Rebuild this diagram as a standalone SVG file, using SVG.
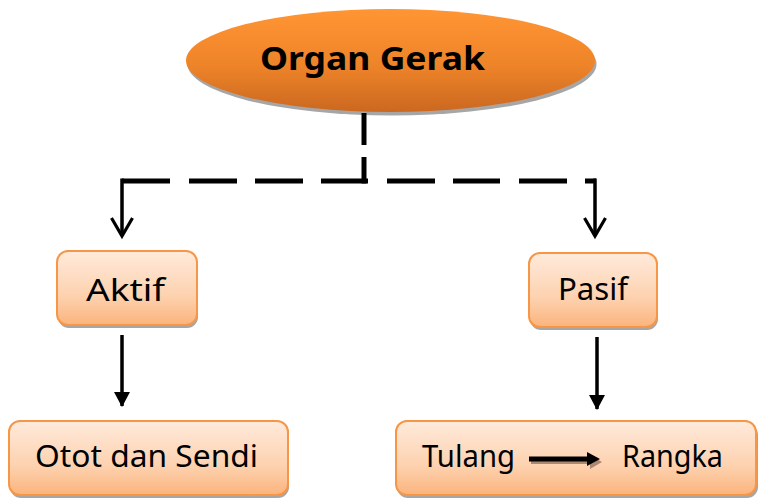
<svg xmlns="http://www.w3.org/2000/svg" width="759" height="498" viewBox="0 0 759 498">
<defs>
<linearGradient id="gOval" x1="0" y1="0" x2="0" y2="1">
<stop offset="0" stop-color="#FF9533"/>
<stop offset="0.55" stop-color="#EE8429"/>
<stop offset="1" stop-color="#CB6820"/>
</linearGradient>
<linearGradient id="gBox" x1="0" y1="0" x2="0" y2="1">
<stop offset="0" stop-color="#FFEADB"/>
<stop offset="0.6" stop-color="#FDD2B0"/>
<stop offset="1" stop-color="#FBB47C"/>
</linearGradient>
<marker id="tri" markerWidth="16" markerHeight="16" refX="14" refY="8" orient="auto" markerUnits="userSpaceOnUse">
<path d="M0,0 L15,8 L0,16 Z" fill="#000"/>
</marker>
<marker id="vee" markerWidth="24" markerHeight="24" refX="20" refY="12" orient="auto" markerUnits="userSpaceOnUse">
<path d="M2,1.5 L20,12 L2,22.5" fill="none" stroke="#000" stroke-width="3.2"/>
</marker>
</defs>
<style>
.box{fill:url(#gBox);stroke:#F79646;stroke-width:2}
.shadow{fill:#A6A6A6}
.lbl{font-family:"Comic Sans MS","Noto Sans",sans-serif;font-size:31px;fill:#000;text-anchor:start}
.title{font-family:"Comic Sans MS","Noto Sans",sans-serif;font-size:33px;font-weight:bold;fill:#000}
.dash{stroke:#000;stroke-width:5;fill:none}
.thin{stroke:#000;stroke-width:3.5;fill:none}
</style>
<rect width="759" height="498" fill="#fff"/>

<g id="organ-gerak">
<ellipse cx="392" cy="64" rx="204.5" ry="51.5" class="shadow"/>
<ellipse cx="390.5" cy="60.5" rx="204.5" ry="51.5" fill="url(#gOval)"/>
<text class="title" x="260" y="70" textLength="225" lengthAdjust="spacingAndGlyphs">Organ Gerak</text>
</g>

<g id="aktif">
<rect x="58" y="254" width="140" height="74" rx="11" class="shadow"/>
<rect x="57" y="251" width="140" height="74" rx="11" class="box"/>
<text class="lbl" x="86" y="301" textLength="79" lengthAdjust="spacingAndGlyphs">Aktif</text>
</g>

<g id="pasif">
<rect x="530" y="256" width="128" height="74" rx="11" class="shadow"/>
<rect x="529" y="253" width="128" height="74" rx="11" class="box"/>
<text class="lbl" x="558" y="300" textLength="70" lengthAdjust="spacingAndGlyphs">Pasif</text>
</g>

<g id="otot-dan-sendi">
<rect x="10" y="424" width="279" height="74" rx="11" class="shadow"/>
<rect x="9" y="421" width="279" height="74" rx="11" class="box"/>
<text class="lbl" x="35" y="467" textLength="223" lengthAdjust="spacingAndGlyphs">Otot dan Sendi</text>
</g>

<g id="tulang-rangka">
<rect x="397" y="424" width="361" height="74" rx="11" class="shadow"/>
<rect x="396" y="421" width="360" height="74" rx="11" class="box"/>
<text class="lbl" x="422" y="467" textLength="93" lengthAdjust="spacingAndGlyphs">Tulang</text>
<text class="lbl" x="622" y="467" textLength="101" lengthAdjust="spacingAndGlyphs">Rangka</text>
<line x1="531" y1="461.5" x2="592" y2="461.5" stroke="#8B6A55" stroke-width="5" opacity="0.7"/>
<path d="M590,455 L602,462 L590,469 Z" fill="#8B6A55" opacity="0.7"/>
<line x1="529" y1="459" x2="590" y2="459" stroke="#000" stroke-width="5"/>
<path d="M587,452 L600,459 L587,466 Z" fill="#000"/>
</g>

<g id="connectors">
<line x1="364" y1="113" x2="364" y2="145" class="dash"/>
<line x1="364" y1="157" x2="364" y2="183.5" class="dash"/>
<path d="M122,181 H170 M189,181 H237 M255,181 H303 M321,181 H368 M387,181 H435 M453,181 H500 M519,181 H567 M585,181 H596" class="dash"/>
<path d="M122,178.5 V236" class="thin" marker-end="url(#vee)"/>
<path d="M595,178.5 V236" class="thin" marker-end="url(#vee)"/>
<path d="M122,335 V406" class="thin" stroke-width="4" marker-end="url(#tri)"/>
<path d="M597,337 V409" class="thin" stroke-width="4" marker-end="url(#tri)"/>
</g>
</svg>
